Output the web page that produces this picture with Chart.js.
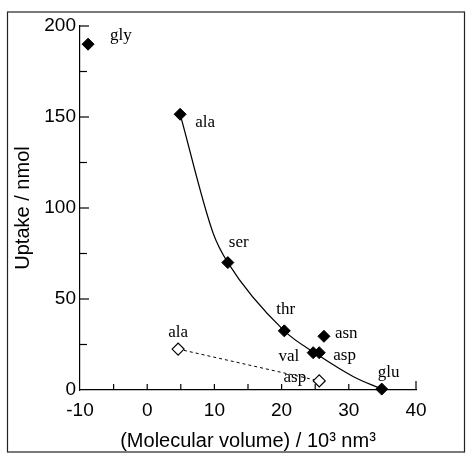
<!DOCTYPE html>
<html>
<head>
<meta charset="utf-8">
<script src="https://cdn.jsdelivr.net/npm/chart.js@4/dist/chart.umd.min.js"></script>
<style>
html,body{margin:0;padding:0;background:#fff;}
#wrap{width:467px;height:454px;position:relative;}
</style>
</head>
<body>
<div id="wrap"><canvas id="c" width="467" height="454"></canvas></div>
<script>
// ---- data ----
const filledNames = ['gly', 'ala', 'ser', 'thr', 'val', 'asp', 'asn', 'glu'];
const filledVolume = [-8.8, 4.9, 12.0, 20.4, 24.7, 25.6, 26.3, 34.9];
const filledUptake = [190, 151.5, 70, 32.5, 20.5, 20.5, 29.5, 0.5];

const openNames = ['ala', 'asp'];
const openVolume = [4.6, 25.6];
const openUptake = [22.5, 5];

// fitted curve
const fitVolume = [4.9, 9.8, 12.0, 20.4, 25.1, 30.7, 34.9];
const fitUptake = [151.5, 86.3, 70, 32.5, 20, 7.3, 0.5];

const xTickValues = [-10, 0, 10, 20, 30, 40];
const yTickValues = [0, 50, 100, 150, 200];

// label placement (pixel offsets from the marker), kept apart from the data
const filledLabelPlace = [
  {dx: 22, dy: -4, align: 'left'},
  {dx: 15, dy: 13, align: 'left'},
  {dx: 1, dy: -16, align: 'left'},
  {dx: -8, dy: -17, align: 'left'},
  {dx: -14, dy: 8, align: 'right'},
  {dx: 14, dy: 7, align: 'left'},
  {dx: 11, dy: 2, align: 'left'},
  {dx: -4, dy: -12, align: 'left'}
];
const openLabelPlace = [
  {dx: 0, dy: -12, align: 'center'},
  {dx: -13, dy: 1, align: 'right'}
];

const toPts = (xs, ys) => xs.map((x, i) => ({x: x, y: ys[i]}));

const frameAndTicks = {
  id: 'frameAndTicks',
  afterDraw(chart) {
    const ctx = chart.ctx;
    const xs = chart.scales.x, ys = chart.scales.y;
    ctx.save();
    // outer frame
    ctx.strokeStyle = '#222';
    ctx.lineWidth = 1.2;
    ctx.strokeRect(7.5, 12, 457, 440);
    // inward ticks
    ctx.strokeStyle = '#000';
    ctx.lineWidth = 1.2;
    const x0 = xs.getPixelForValue(-10);
    const y0 = ys.getPixelForValue(0);
    for (let v = 25; v <= 200; v += 25) {
      const py = ys.getPixelForValue(v);
      const len = (v % 50 === 0) ? 9 : 7;
      ctx.beginPath(); ctx.moveTo(x0, py); ctx.lineTo(x0 + len, py); ctx.stroke();
    }
    for (let v = -5; v <= 40; v += 5) {
      const px = xs.getPixelForValue(v);
      const len = (v === 40) ? 9 : 6;
      ctx.beginPath(); ctx.moveTo(px, y0); ctx.lineTo(px, y0 - len); ctx.stroke();
    }
    // point names
    ctx.fillStyle = '#000';
    ctx.font = '17px "Liberation Serif", "Times New Roman", serif';
    ctx.textBaseline = 'alphabetic';
    const drawNames = (dsIndex, names, place) => {
      const meta = chart.getDatasetMeta(dsIndex);
      meta.data.forEach((el, i) => {
        const p = place[i];
        ctx.textAlign = p.align;
        ctx.fillText(names[i], el.x + p.dx, el.y + p.dy);
      });
    };
    drawNames(0, filledNames, filledLabelPlace);
    drawNames(1, openNames, openLabelPlace);
    ctx.restore();
  }
};

const tickFont = {family: '"Liberation Sans", Arial, sans-serif', size: 19};
const titleFont = {family: '"Liberation Sans", Arial, sans-serif', size: 20};

new Chart(document.getElementById('c'), {
  type: 'scatter',
  data: {
    datasets: [
      {
        label: 'filled',
        data: toPts(filledVolume, filledUptake),
        pointStyle: 'rectRot',
        pointRadius: 6,
        pointBackgroundColor: '#000',
        pointBorderColor: '#000',
        pointBorderWidth: 1,
        showLine: false,
        clip: false
      },
      {
        label: 'open',
        data: toPts(openVolume, openUptake),
        pointStyle: 'rectRot',
        pointRadius: 6,
        pointBackgroundColor: '#fff',
        pointBorderColor: '#000',
        pointBorderWidth: 1.2,
        showLine: true,
        borderColor: '#000',
        borderWidth: 1,
        borderDash: [3, 3],
        clip: false
      },
      {
        label: 'fit',
        data: toPts(fitVolume, fitUptake),
        showLine: true,
        pointRadius: 0,
        borderColor: '#000',
        borderWidth: 1.2,
        cubicInterpolationMode: 'monotone',
        clip: false
      }
    ]
  },
  options: {
    responsive: false,
    animation: false,
    events: [],
    layout: {padding: {left: 0, top: 26, right: 51, bottom: 0}},
    plugins: {legend: {display: false}, tooltip: {enabled: false}},
    scales: {
      x: {
        type: 'linear',
        min: -10, max: 40,
        afterFit(s) { s.height = 64; },
        afterBuildTicks(s) { s.ticks = xTickValues.map(v => ({value: v})); },
        grid: {display: true, drawOnChartArea: false, drawTicks: false},
        border: {display: true, color: '#000', width: 1.2},
        ticks: {color: '#000', font: tickFont, padding: 9, maxRotation: 0},
        title: {
          display: true,
          text: '(Molecular volume) / 10³ nm³',
          color: '#000',
          font: titleFont,
          padding: {top: 0, bottom: 1}
        }
      },
      y: {
        type: 'linear',
        min: 0, max: 200,
        afterFit(s) { s.width = 80; },
        afterBuildTicks(s) { s.ticks = yTickValues.map(v => ({value: v})); },
        grid: {display: true, drawOnChartArea: false, drawTicks: false},
        border: {display: true, color: '#000', width: 1.2},
        ticks: {color: '#000', font: tickFont, padding: 4},
        title: {
          display: true,
          text: 'Uptake / nmol',
          color: '#000',
          font: titleFont,
          padding: {top: 11, bottom: 0}
        }
      }
    }
  },
  plugins: [frameAndTicks]
});
</script>
</body>
</html>
